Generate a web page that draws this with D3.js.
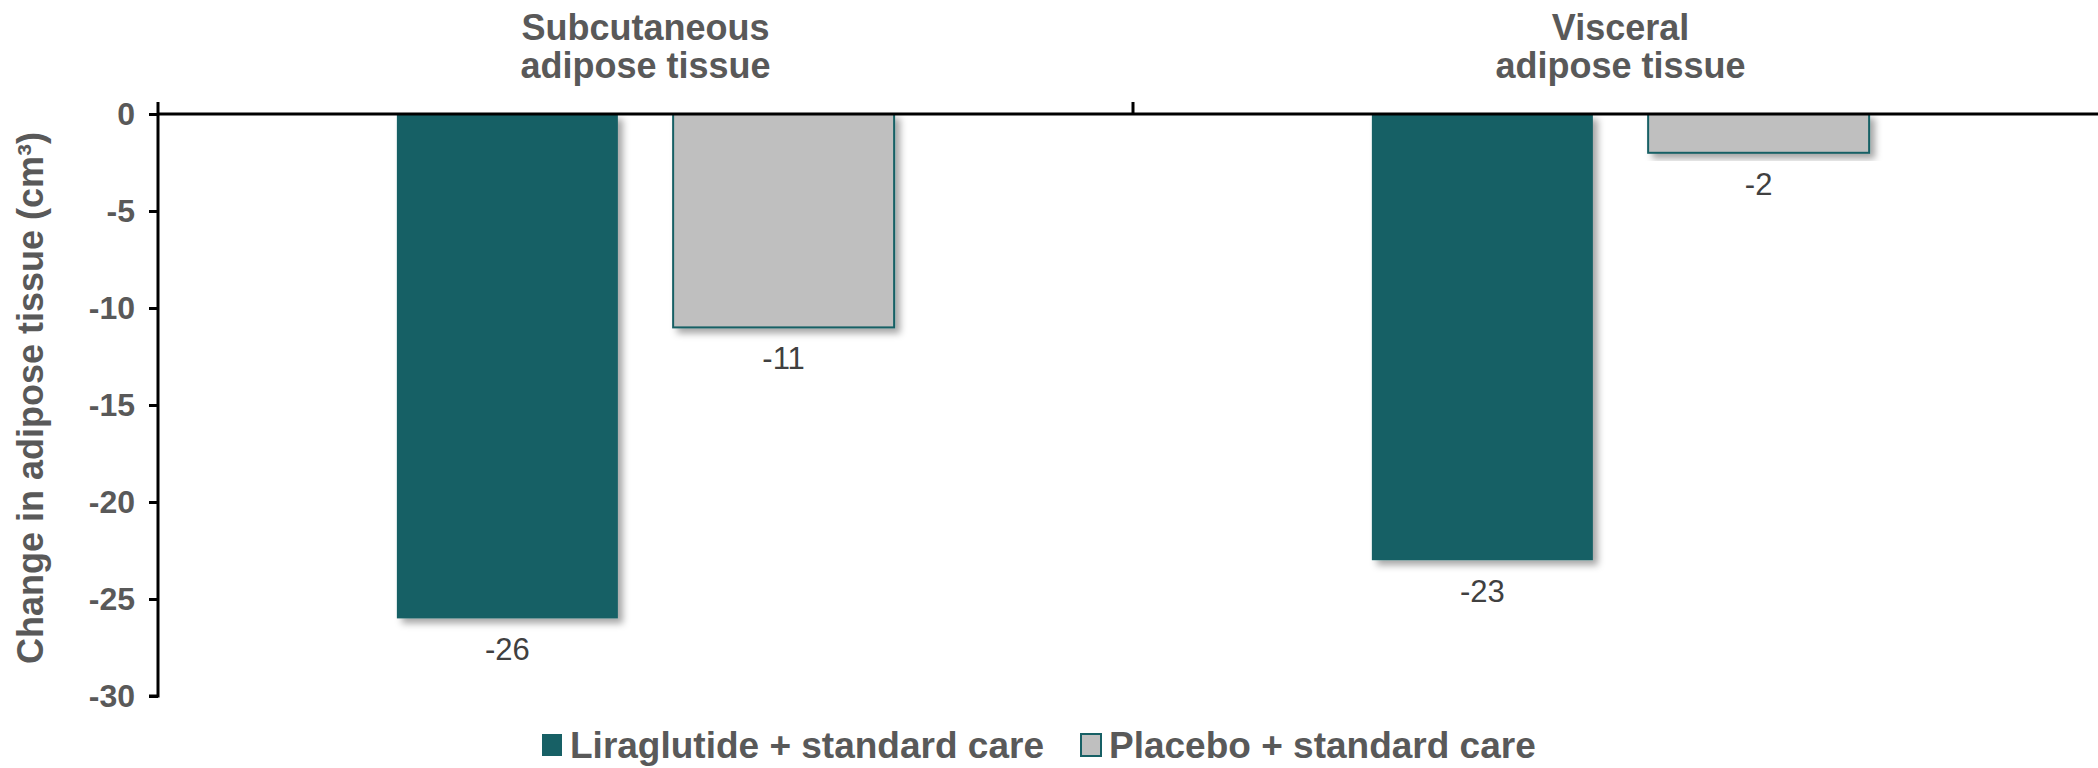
<!DOCTYPE html>
<html>
<head>
<meta charset="utf-8">
<script src="https://cdn.jsdelivr.net/npm/d3@7"></script>
<style>
  html, body { margin: 0; padding: 0; background: #fff; }
  svg { display: block; font-family: "Liberation Sans", Arial, sans-serif; }
</style>
</head>
<body>
<svg id="chart" width="2098" height="768"></svg>
<script>
// ---- data ----
const categories = ["Subcutaneous adipose tissue", "Visceral adipose tissue"];
const categoryLines = [["Subcutaneous", "adipose tissue"], ["Visceral", "adipose tissue"]];
const series = ["Liraglutide + standard care", "Placebo + standard care"];
const liraglutideValues = [-26, -23];
const placeboValues = [-11, -2];
const yTicks = [0, -5, -10, -15, -20, -25, -30];
const yAxisTitle = "Change in adipose tissue (cm³)";

(function () {
const seriesValues = [liraglutideValues, placeboValues];
const colors = ["#176065", "#bfbfbf"];
const strokes = ["#176065", "#176065"];

const plotLeft = 158, plotTop = 114, plotBottom = 696, plotRightEnd = 2108;

const svg = d3.select("#chart");

const defs = svg.append("defs");
const f = defs.append("filter").attr("id", "shadow")
  .attr("x", "-10%").attr("y", "-10%").attr("width", "130%").attr("height", "130%");
f.append("feDropShadow").attr("dx", 5).attr("dy", 5).attr("stdDeviation", 3.5)
  .attr("flood-color", "#000").attr("flood-opacity", 0.35);

const y = d3.scaleLinear().domain([-30, 0]).range([plotBottom, plotTop]);
const x0 = d3.scaleBand().domain(categories).range([plotLeft, plotRightEnd]).padding(0);
const bw0 = x0.bandwidth();
const x1 = d3.scaleBand().domain(series).range([bw0 * 0.245, bw0 * 0.755]).paddingInner(0.2);

const data = [];
categories.forEach((c, ci) => {
  series.forEach((s, si) => {
    data.push({ c, s, si, v: seriesValues[si][ci] });
  });
});

const barG = svg.append("g");
barG.selectAll("rect").data(data).enter().append("rect")
  .attr("x", d => x0(d.c) + x1(d.s))
  .attr("y", y(0))
  .attr("width", x1.bandwidth())
  .attr("height", d => y(d.v) - y(0))
  .attr("fill", d => colors[d.si])
  .attr("stroke", d => strokes[d.si])
  .attr("stroke-width", d => d.si === 1 ? 2 : 0)
  .attr("filter", "url(#shadow)");

svg.append("g").selectAll("text").data(data).enter().append("text")
  .attr("x", d => x0(d.c) + x1(d.s) + x1.bandwidth() / 2)
  .attr("y", d => y(d.v) + 42)
  .attr("text-anchor", "middle")
  .attr("font-size", 31)
  .attr("fill", "#404040")
  .text(d => String(d.v));

const yAxis = d3.axisLeft(y).tickValues(yTicks).tickSize(9).tickPadding(14).tickFormat(d => String(d));
const gy = svg.append("g").attr("transform", `translate(${plotLeft},0)`).call(yAxis);
gy.select(".domain").attr("stroke", "#000").attr("stroke-width", 3)
  .attr("d", `M-9,${plotBottom}H0V${plotTop - 12}`);
gy.selectAll(".tick line").attr("stroke", "#000").attr("stroke-width", 3);
gy.selectAll(".tick text").attr("font-size", 32).attr("font-weight", "bold")
  .attr("fill", "#595959").attr("font-family", "'Liberation Sans', Arial, sans-serif");

const xAxis = d3.axisTop(x0).tickValues([]).tickSize(0);
const gx = svg.append("g").attr("transform", `translate(0,${y(0)})`).call(xAxis);
gx.select(".domain").attr("stroke", "#000").attr("stroke-width", 3)
  .attr("d", `M${plotLeft},0H${plotRightEnd}`);
const boundaries = [x0(categories[1])];
gx.selectAll("line.bt").data(boundaries).enter().append("line")
  .attr("class", "bt")
  .attr("x1", d => d).attr("x2", d => d).attr("y1", -12).attr("y2", 0)
  .attr("stroke", "#000").attr("stroke-width", 3);

const tg = svg.append("g");
categories.forEach((c, ci) => {
  const t = tg.append("text")
    .attr("x", x0(c) + bw0 / 2)
    .attr("text-anchor", "middle")
    .attr("font-size", 36).attr("font-weight", "bold").attr("fill", "#595959");
  categoryLines[ci].forEach((ln, li) => {
    t.append("tspan").attr("x", x0(c) + bw0 / 2).attr("y", 40 + li * 38).text(ln);
  });
});

svg.append("text")
  .attr("transform", `translate(43,398) rotate(-90)`)
  .attr("text-anchor", "middle")
  .attr("font-size", 36).attr("font-weight", "bold").attr("fill", "#595959")
  .text(yAxisTitle);

const legendX = [542, 1081];
const lg = svg.append("g");
series.forEach((s, si) => {
  const g = lg.append("g").attr("transform", `translate(${legendX[si]},0)`);
  g.append("rect").attr("x", 0).attr("y", 734).attr("width", 20).attr("height", 22)
    .attr("fill", colors[si]).attr("stroke", strokes[si]).attr("stroke-width", si === 1 ? 2 : 0);
  g.append("text").attr("x", 28).attr("y", 758)
    .attr("font-size", 37).attr("font-weight", "bold").attr("fill", "#595959")
    .text(s);
});
})();
</script>
</body>
</html>
